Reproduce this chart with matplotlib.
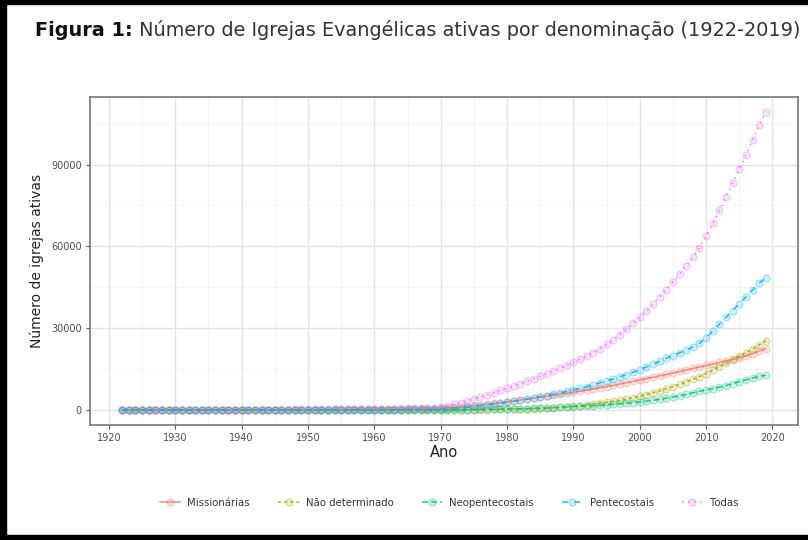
import matplotlib
matplotlib.use("Agg")
import matplotlib.pyplot as plt
from matplotlib.patches import Rectangle
from matplotlib.lines import Line2D
from matplotlib.ticker import MultipleLocator
from matplotlib.colors import to_rgba

years = list(range(1922, 2020))

missionarias = [
    20, 22, 25, 27, 30, 33, 36, 40,
    44, 48, 52, 56, 60, 65, 70, 75, 80, 86,
    92, 98, 105, 112, 120, 128, 136, 145, 154, 164,
    174, 185, 196, 208, 220, 233, 246, 260, 275, 290,
    306, 322, 340, 358, 377, 397, 418, 440, 470, 520,
    600, 760, 950, 1150, 1380, 1620, 1880, 2150, 2440, 2740,
    3050, 3370, 3700, 4040, 4390, 4740, 5100, 5460, 5820, 6180,
    6550, 6950, 7350, 7750, 8150, 8600, 9050, 9550, 10050, 10550,
    11050, 11550, 12050, 12550, 13050, 13600, 14150, 14700, 15250, 15800,
    16350, 16900, 17450, 18000, 18600, 19200, 19900, 20700, 21600, 22500,
]
nao_determinado = [
    0, 0, 0, 0, 0, 0, 0, 0,
    0, 0, 0, 1, 1, 1, 1, 2, 2, 2,
    2, 3, 3, 3, 4, 4, 5, 5, 6, 6,
    7, 8, 9, 10, 11, 12, 13, 15, 16, 18,
    20, 22, 24, 26, 29, 32, 35, 38, 42, 48,
    55, 65, 78, 92, 110, 130, 155, 185, 220, 260,
    300, 350, 410, 480, 560, 650, 760, 900, 1060, 1240,
    1450, 1680, 1940, 2220, 2520, 2850, 3200, 3600, 4050, 4550,
    5100, 5700, 6350, 7050, 7800, 8600, 9450, 10350, 11300, 12300,
    13400, 14600, 15900, 17200, 18500, 19800, 21100, 22400, 23900, 25500,
]
neopentecostais = [
    0, 0, 0, 0, 0, 0, 0, 0,
    0, 0, 0, 0, 0, 0, 0, 0, 0, 0,
    0, 0, 0, 0, 0, 1, 1, 1, 1, 1,
    2, 2, 2, 3, 3, 3, 4, 4, 5, 5,
    6, 7, 8, 9, 10, 12, 14, 17, 22, 35,
    60, 90, 120, 150, 180, 210, 240, 270, 300, 340,
    400, 440, 490, 550, 620, 700, 790, 890, 1000, 1140,
    1300, 1400, 1520, 1650, 1800, 1960, 2130, 2320, 2520, 2750,
    3000, 3300, 3600, 3950, 4350, 4800, 5250, 5750, 6300, 6900,
    7400, 7900, 8400, 9000, 9700, 10400, 11100, 11800, 12400, 12800,
]
pentecostais = [
    3, 4, 5, 6, 7, 8, 9, 10,
    12, 13, 15, 17, 19, 21, 23, 25, 28, 31,
    34, 37, 40, 44, 48, 52, 56, 61, 66, 71,
    77, 83, 89, 96, 103, 110, 118, 126, 135, 145,
    155, 166, 178, 190, 203, 217, 232, 250, 275, 310,
    380, 520, 700, 900, 1120, 1360, 1620, 1900, 2200, 2520,
    2860, 3220, 3600, 4000, 4420, 4860, 5320, 5800, 6300, 6820,
    7400, 8000, 8600, 9300, 10000, 10700, 11400, 12200, 13000, 13900,
    14800, 15800, 16800, 17900, 19000, 20000, 21000, 22000, 23200, 24500,
    26500, 29000, 31500, 34000, 36500, 39000, 41500, 44000, 46500, 48500,
]
todas = [
    23, 26, 30, 33, 37, 41, 45, 50,
    56, 61, 67, 74, 80, 87, 94, 102, 110, 119,
    128, 138, 148, 159, 172, 185, 198, 212, 227, 242,
    260, 278, 296, 317, 337, 358, 381, 405, 431, 458,
    487, 517, 550, 583, 619, 658, 699, 745, 809, 913,
    1150, 1600, 2150, 2750, 3400, 4100, 4850, 5600, 6400, 7200,
    8000, 8850, 9700, 10600, 11500, 12450, 13400, 14400, 15400, 16450,
    17500, 18600, 19750, 21000, 22470, 24110, 25780, 27670, 29620, 31750,
    33950, 36350, 38800, 41450, 44200, 47000, 49850, 52800, 56050, 59500,
    63650, 68400, 73250, 78200, 83300, 88400, 93600, 98900, 104400, 109300,
]

series_names = ["Missionárias", "Não determinado", "Neopentecostais", "Pentecostais", "Todas"]
series_values = [missionarias, nao_determinado, neopentecostais, pentecostais, todas]
colors = ["#F8766D", "#A3A500", "#00BF7D", "#00B0F6", "#E76BF3"]
dashes = [None, (2, 2), (4, 2), (4, 4), (1, 3)]

y_ticks = [0, 30000, 60000, 90000]
x_ticks = list(range(1920, 2021, 10))

title_bold = "Figura 1:"
title_rest = " Número de Igrejas Evangélicas ativas por denominação (1922-2019)"
x_label = "Ano"
y_label = "Número de igrejas ativas"

plt.rcParams["font.family"] = ["DejaVu Sans"]

W, H = 808, 540
fig = plt.figure(figsize=(W / 100, H / 100), dpi=100)
fig.patch.set_facecolor("white")

ax = fig.add_axes([90 / W, 1 - 425 / H, (798 - 90) / W, (425 - 97) / H])

for name, vals, col, ds in zip(series_names, series_values, colors, dashes):
    ln, = ax.plot(years, vals, color=to_rgba(col, 0.85), lw=1.1, zorder=3)
    if ds is not None:
        ln.set_dashes(ds)
    ax.plot(years, vals, linestyle="none", marker="o", markersize=5,
            markerfacecolor=to_rgba(col, 0.18), markeredgecolor=to_rgba(col, 0.35),
            markeredgewidth=0.8, zorder=2)

ax.set_xlim(1917.15, 2023.85)
ax.set_ylim(-5465, 114765)
ax.set_xticks(x_ticks)
ax.set_yticks(y_ticks)
ax.xaxis.set_minor_locator(MultipleLocator(5))
ax.yaxis.set_minor_locator(MultipleLocator(15000))
ax.grid(True, which="major", color="#e3e3e3", lw=1.0, zorder=0)
ax.grid(True, which="minor", color="#f2f2f2", lw=0.6, zorder=0)
ax.set_axisbelow(True)
for s in ax.spines.values():
    s.set_color("#777777")
    s.set_linewidth(1.2)
ax.tick_params(which="major", length=3, color="#555555", labelsize=7,
               labelcolor="#4d4d4d", pad=3)
ax.tick_params(which="minor", length=0)
ax.set_xlabel(x_label, fontsize=10.5, color="#222222", labelpad=1)
ax.set_ylabel(y_label, fontsize=10, color="#222222", labelpad=5)

handles = []
for name, col, ds in zip(series_names, colors, dashes):
    h = Line2D([0], [0], color=to_rgba(col, 0.85), lw=1.1, marker="o", markersize=5,
               markerfacecolor=to_rgba(col, 0.18), markeredgecolor=to_rgba(col, 0.35))
    if ds is not None:
        h.set_dashes(ds)
    handles.append(h)
fig.legend(handles, series_names, loc="center", bbox_to_anchor=(449 / W, 1 - 503 / H),
           ncol=5, frameon=False, fontsize=7.3, handlelength=2.0, columnspacing=2.8,
           handletextpad=0.7, labelcolor="#333333")

t1 = fig.text(35 / W, 1 - 30 / H, title_bold, fontsize=13.85, fontweight="bold",
              color="#111111", va="center", ha="left")
fig.canvas.draw()
bb = t1.get_window_extent()
fig.text(bb.x1 / W, 1 - 30 / H, title_rest, fontsize=13.85, color="#333333",
         va="center", ha="left")

# screenshot frame
fig.patches.append(Rectangle((0, 0), 6 / W, 1, transform=fig.transFigure,
                             color="black", zorder=10))
fig.patches.append(Rectangle((0, 1 - 4 / H), 1, 4 / H, transform=fig.transFigure,
                             color="black", zorder=10))
fig.patches.append(Rectangle((0, 0), 1, 5 / H, transform=fig.transFigure,
                             color="black", zorder=10))

fig.savefig("out.png", dpi=100)
